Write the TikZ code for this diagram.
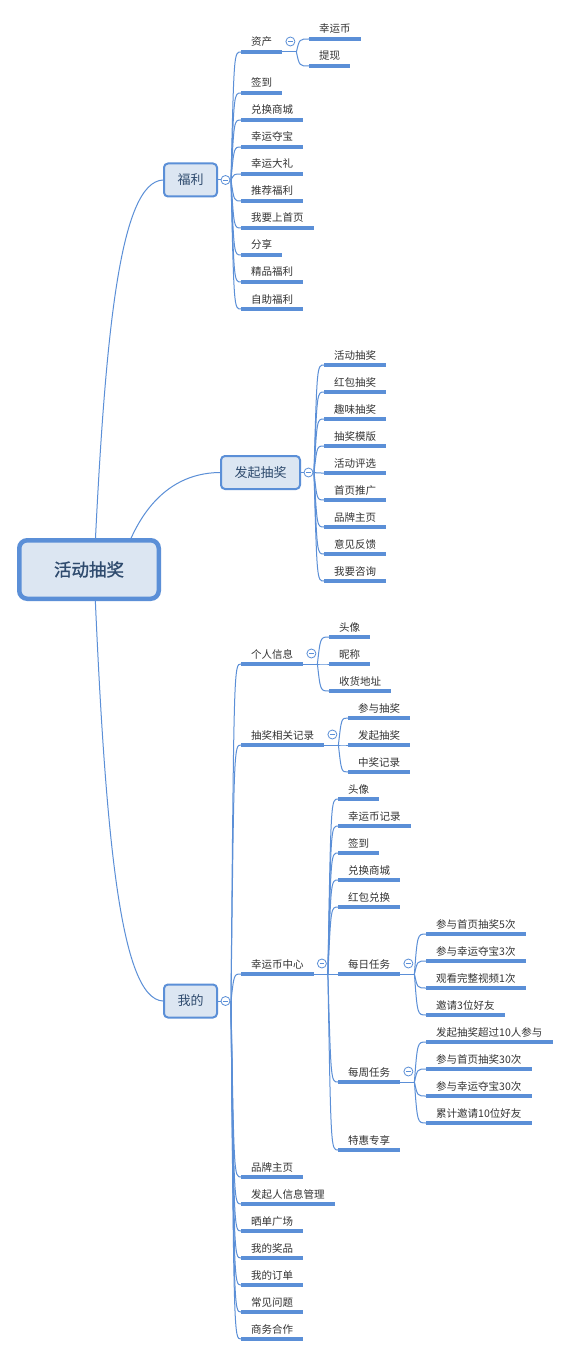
\documentclass[tikz,border=0pt]{standalone}
\usepackage{fontspec}
\newfontfamily\cjk{Noto Sans CJK SC}
\newfontfamily\cjkb[FakeBold=1.2]{Noto Sans CJK SC}
\usetikzlibrary{calc,backgrounds}
\definecolor{mline}{HTML}{5B8FD7}
\definecolor{mfill}{HTML}{DCE6F2}
\definecolor{mtext}{HTML}{2F4B6E}
\definecolor{ltext}{HTML}{333333}
\tikzset{
 conn/.style={draw=mline, line width=1pt},
 uline/.style={draw=mline, line width=3.2pt},
 leaf/.style={anchor=base west, inner sep=0pt, text=ltext, font=\cjk\fontsize{10.5pt}{12pt}\selectfont},
 branch/.style={draw=mline, fill=mfill, line width=2pt, rounded corners=4pt, text=mtext, font=\cjk\fontsize{13pt}{15pt}\selectfont, inner sep=0pt, minimum height=33pt},
 rootbox/.style={draw=mline, fill=mfill, line width=4.5pt, rounded corners=8pt, text=mtext, font=\cjkb\fontsize{17.5pt}{20pt}\selectfont, inner sep=0pt, minimum width=139.5pt, minimum height=58.5pt},
 fold/.style={circle, draw=mline, fill=white, line width=0.8pt, minimum size=9pt, inner sep=0pt,
   path picture={\draw[mline, line width=0.8pt] ([xshift=-2.3pt]path picture bounding box.center) -- ([xshift=2.3pt]path picture bounding box.center);}},
}
\newcommand{\mleaf}[4]{%
  \node[leaf] (#1) at (#2+10,#3-6) {#4};
  \coordinate (#1-s) at (#2,#3);
  \coordinate (#1-e) at ($(#1.base east)+(10,6)$);
  \draw[uline] (#1-s) -- (#1-e);}
\newcommand{\mconn}[2]{\draw[conn] (#1) .. controls ($(#1 |- #2)+(3,0)$) .. (#2);}
\newcommand{\mfold}[2]{%
  \coordinate (#1-j) at ($(#1-e)+(14,0)$);
  \draw[conn] (#1-e) -- (#1-j);
  \node[fold] (#2) at ($(#1-e)+(8,-10.5)$) {};}
\newcommand{\bfold}[2]{%
  \coordinate (#1-j) at ($(#1.east)+(13,0)$);
  \draw[conn] (#1.east) -- (#1-j);
  \node[fold] (#2) at ($(#1.east)+(7.5,0)$) {};}
\begin{document}
\begin{tikzpicture}[x=1pt,y=-1pt]
\useasboundingbox (0,0) rectangle (570,1356);
\begin{pgfonlayer}{background}
\fill[white] (0,0) rectangle (570,1356);
\end{pgfonlayer}

% main topics
\node[rootbox] (root) at (89,569.5) {活动抽奖};
\node[branch, minimum width=53pt] (fl) at (190.5,180) {福利};
\node[branch, minimum width=79pt] (fq) at (260.5,472.5) {发起抽奖};
\node[branch, minimum width=53pt] (wd) at (190.5,1001) {我的};

\begin{pgfonlayer}{background}
\draw[conn] ([xshift=5pt]root.center) .. controls (105,330) and (120,182) .. (fl.west);
\draw[conn] ([xshift=31pt]root.center) .. controls (132,525) and (160,473) .. (fq.west);
\draw[conn] ([xshift=5pt]root.center) .. controls (105,835) and (120,999) .. (wd.west);
\end{pgfonlayer}

% ---------- 福利 ----------
\mleaf{zc}{241}{52}{资产}
\mleaf{qd}{241}{93}{签到}
\mleaf{dh}{241}{120}{兑换商城}
\mleaf{xydb}{241}{147}{幸运夺宝}
\mleaf{xydl}{241}{174}{幸运大礼}
\mleaf{tj}{241}{201}{推荐福利}
\mleaf{sy}{241}{228}{我要上首页}
\mleaf{fx}{241}{255}{分享}
\mleaf{jp}{241}{282}{精品福利}
\mleaf{zz}{241}{309}{自助福利}
\bfold{fl}{flf}
\foreach \c in {zc,qd,dh,xydb,xydl,tj,sy,fx,jp,zz} {\mconn{fl-j}{\c-s}}

\mleaf{lyb}{309}{39}{幸运币}
\mleaf{tx}{309}{66}{提现}
\mfold{zc}{zcf}
\mconn{zc-j}{lyb-s}
\mconn{zc-j}{tx-s}

% ---------- 发起抽奖 ----------
\mleaf{a1}{324}{365}{活动抽奖}
\mleaf{a2}{324}{392}{红包抽奖}
\mleaf{a3}{324}{419}{趣味抽奖}
\mleaf{a4}{324}{446}{抽奖模版}
\mleaf{a5}{324}{473}{活动评选}
\mleaf{a6}{324}{500}{首页推广}
\mleaf{a7}{324}{527}{品牌主页}
\mleaf{a8}{324}{554}{意见反馈}
\mleaf{a9}{324}{581}{我要咨询}
\bfold{fq}{fqf}
\foreach \c in {a1,a2,a3,a4,a5,a6,a7,a8,a9} {\mconn{fq-j}{\c-s}}

% ---------- 我的 ----------
\mleaf{gr}{241}{664}{个人信息}
\mleaf{cj}{241}{745}{抽奖相关记录}
\mleaf{xyz}{241}{974}{幸运币中心}
\mleaf{pp}{241}{1177}{品牌主页}
\mleaf{fqr}{241}{1204}{发起人信息管理}
\mleaf{sd}{241}{1231}{晒单广场}
\mleaf{jpb}{241}{1258}{我的奖品}
\mleaf{dd}{241}{1285}{我的订单}
\mleaf{cw}{241}{1312}{常见问题}
\mleaf{sw}{241}{1339}{商务合作}
\bfold{wd}{wdf}
\foreach \c in {gr,cj,xyz,pp,fqr,sd,jpb,dd,cw,sw} {\mconn{wd-j}{\c-s}}

% 个人信息
\mleaf{tx1}{329}{637}{头像}
\mleaf{nc}{329}{664}{昵称}
\mleaf{sh}{329}{691}{收货地址}
\mfold{gr}{grf}
\foreach \c in {tx1,nc,sh} {\mconn{gr-j}{\c-s}}

% 抽奖相关记录
\mleaf{cy}{348}{718}{参与抽奖}
\mleaf{fqcj}{348}{745}{发起抽奖}
\mleaf{zj}{348}{772}{中奖记录}
\mfold{cj}{cjf}
\foreach \c in {cy,fqcj,zj} {\mconn{cj-j}{\c-s}}

% 幸运币中心
\mleaf{tx2}{338}{799}{头像}
\mleaf{xyjl}{338}{826}{幸运币记录}
\mleaf{qd2}{338}{853}{签到}
\mleaf{dh2}{338}{880}{兑换商城}
\mleaf{hb}{338}{907}{红包兑换}
\mleaf{mr}{338}{974}{每日任务}
\mleaf{mz}{338}{1082}{每周任务}
\mleaf{th}{338}{1150}{特惠专享}
\mfold{xyz}{xyzf}
\foreach \c in {tx2,xyjl,qd2,dh2,hb,mr,mz,th} {\mconn{xyz-j}{\c-s}}

% 每日任务
\mleaf{d1}{426}{934}{参与首页抽奖5次}
\mleaf{d2}{426}{961}{参与幸运夺宝3次}
\mleaf{d3}{426}{988}{观看完整视频1次}
\mleaf{d4}{426}{1015}{邀请3位好友}
\mfold{mr}{mrf}
\foreach \c in {d1,d2,d3,d4} {\mconn{mr-j}{\c-s}}

% 每周任务
\mleaf{w1}{426}{1042}{发起抽奖超过10人参与}
\mleaf{w2}{426}{1069}{参与首页抽奖30次}
\mleaf{w3}{426}{1096}{参与幸运夺宝30次}
\mleaf{w4}{426}{1123}{累计邀请10位好友}
\mfold{mz}{mzf}
\foreach \c in {w1,w2,w3,w4} {\mconn{mz-j}{\c-s}}
\end{tikzpicture}
\end{document}
